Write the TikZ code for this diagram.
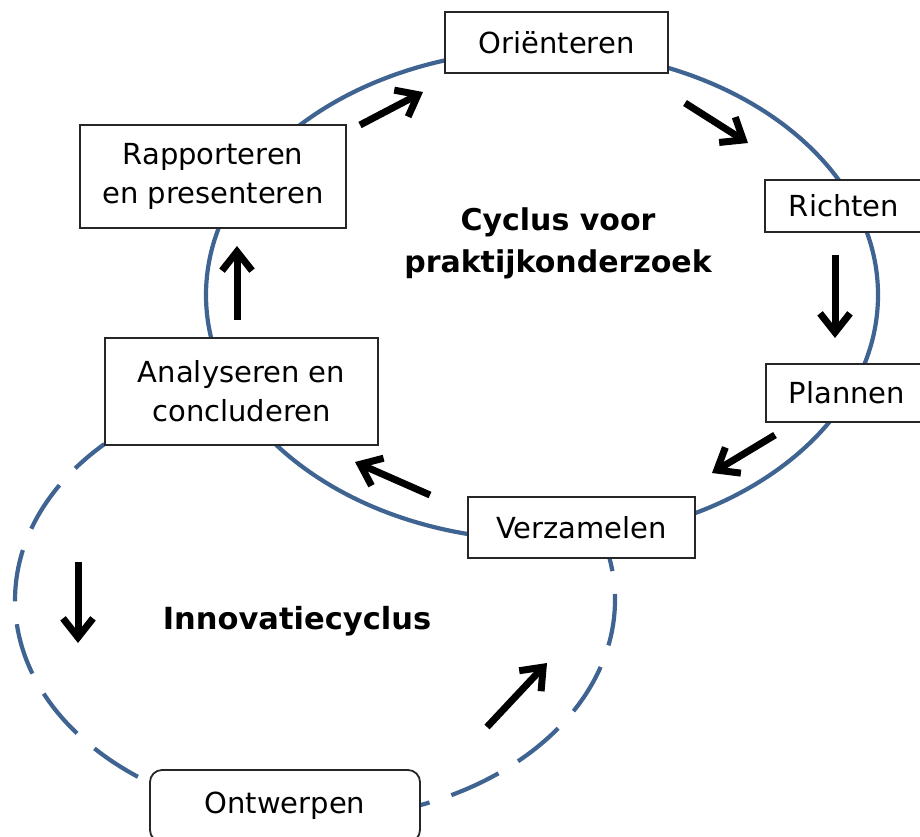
\documentclass[tikz,border=0pt]{standalone}
\usepackage{fontspec}
\setmainfont{DejaVu Sans}
\usetikzlibrary{arrows.meta}
\definecolor{cycblue}{RGB}{64,100,145}
\begin{document}
\begin{tikzpicture}[x=1pt,y=-1pt,
  stepbox/.style={draw=black!85, line width=1.8pt, fill=white, inner sep=0pt, align=center,
    font=\fontsize{29}{39}\selectfont},
  cycle/.style={draw=cycblue, line width=4.2pt},
  flow/.style={line width=7pt, -{Straight Barb[length=19pt,width=30pt]}},
  title/.style={font=\fontsize{30}{42}\selectfont\bfseries, align=center}]
\useasboundingbox (0,0) rectangle (920,836);
\fill[white] (0,0) rectangle (920,836);

% cycles
\draw[cycle] (542,295) ellipse [x radius=336, y radius=245];
\draw[cycle, dash pattern=on 52pt off 23pt, dash phase=14pt] (315,600) ++(225.4:300 and 219) coordinate (dstart)
  arc [start angle=225.4, end angle=-11, x radius=300, y radius=219] coordinate (dend);

% boxes
\node[stepbox, minimum width=223, minimum height=61] (ori) at (556.5,42.5) {Oriënteren};
\node[stepbox, minimum width=158, minimum height=52] (ric) at (844,206) {Richten};
\node[stepbox, minimum width=162, minimum height=58] (pla) at (847,393) {Plannen};
\node[stepbox, minimum width=227, minimum height=61] (ver) at (581.5,527.5) {Verzamelen};
\node[stepbox, minimum width=273, minimum height=107] (ana) at (241.5,391.5) {Analyseren en\\concluderen};
\node[stepbox, minimum width=266, minimum height=103] (rap) at (213,176.5) {Rapporteren\\en presenteren};
\node[stepbox, rounded corners=12pt, minimum width=270, minimum height=72] (ont) at (285,806) {Ontwerpen};

% titles
\node[title] (t1) at (558,243) {Cyclus voor\\praktijkonderzoek};
\node[font=\fontsize{30.5}{36}\selectfont\bfseries] (t2) at (297,621) {Innovatiecyclus};

% arrows
\coordinate (a1s) at (360,125); \coordinate (a1e) at (423,92);
\coordinate (a2s) at (685,103); \coordinate (a2e) at (748,143);
\coordinate (a3s) at (835,255); \coordinate (a3e) at (835,338);
\coordinate (a4s) at (775,435); \coordinate (a4e) at (712,473);
\coordinate (a5s) at (430,495); \coordinate (a5e) at (355,462);
\coordinate (a6s) at (237,320); \coordinate (a6e) at (237,246);
\coordinate (a7s) at (78,562);  \coordinate (a7e) at (78,643);
\coordinate (a8s) at (487,727); \coordinate (a8e) at (547,663);
\foreach \i in {1,...,8} \draw[flow] (a\i s) -- (a\i e);
\end{tikzpicture}
\end{document}
